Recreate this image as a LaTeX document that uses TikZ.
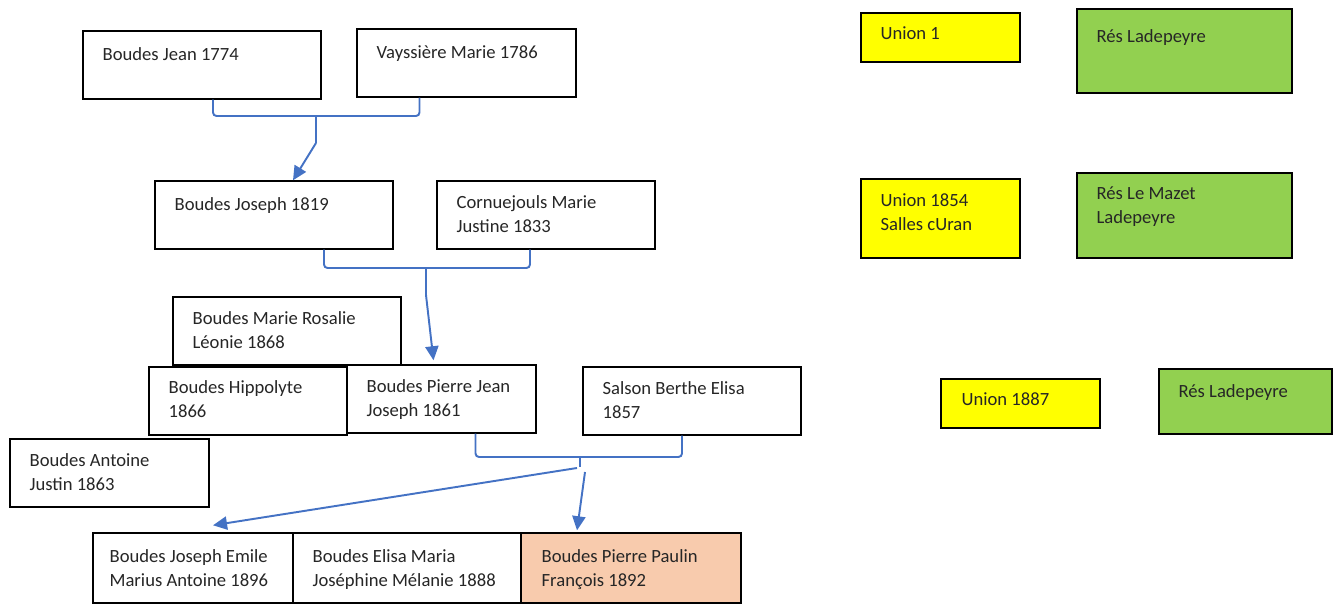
\documentclass[tikz,border=0pt]{standalone}
\usepackage{fontspec}
\setmainfont{Carlito}
\usepackage{xcolor}
\usepackage{tikz}
\usetikzlibrary{arrows.meta,fit}
\definecolor{famBlue}{HTML}{4472C4}
\definecolor{famYellow}{HTML}{FFFF00}
\definecolor{famGreen}{HTML}{92D050}
\definecolor{famPeach}{HTML}{F8CBAD}
\definecolor{famInk}{HTML}{262626}

\begin{document}
\begin{tikzpicture}[x=0.02cm,y=-0.02cm,
    card/.style={draw=black, line width=0.8pt, fill=white, inner sep=0pt},
    who/.style={anchor=base west, inner sep=0pt, align=left, text=famInk,
      font=\fontsize{10.6}{13.6}\selectfont},
    link/.style={draw=famBlue, line width=1.1pt, rounded corners=2pt},
    kid/.style={link, -{Triangle[length=8pt,width=7.5pt]}}]
  \useasboundingbox (0,0) rectangle (1335,607);

  % parents 1774 / 1786
  \node[card, fit={(83,31) (321,99)}] (jean) {};
  \node[who] (jean-t) at ([shift={(20,30)}]jean.north west) {Boudes Jean 1774};
  \node[card, fit={(357,29) (576,97)}] (vay) {};
  \node[who] (vay-t) at ([shift={(20,30)}]vay.north west) {Vayssière Marie 1786};

  % couple 1854
  \node[card, fit={(155,181) (393,249)}] (joseph) {};
  \node[who] (joseph-t) at ([shift={(20,30)}]joseph.north west) {Boudes Joseph 1819};
  \node[card, fit={(437,181) (655,249)}] (corn) {};
  \node[who] (corn-t) at ([shift={(20,52)}]corn.north west) {Cornuejouls Marie\\Justine 1833};

  % their children
  \node[card, fit={(173,297) (401,365)}] (rosalie) {};
  \node[who] (rosalie-t) at ([shift={(20,52)}]rosalie.north west) {Boudes Marie Rosalie\\Léonie 1868};
  \node[card, fit={(149,367) (347,435)}] (hipp) {};
  \node[who] (hipp-t) at ([shift={(20,51)}]hipp.north west) {Boudes Hippolyte\\1866};
  \node[card, fit={(347,365) (536,433)}] (pierre) {};
  \node[who] (pierre-t) at ([shift={(20,52)}]pierre.north west) {Boudes Pierre Jean\\Joseph 1861};
  \node[card, fit={(583,367) (801,435)}] (salson) {};
  \node[who] (salson-t) at ([shift={(20,52)}]salson.north west) {Salson Berthe Elisa\\1857};
  \node[card, fit={(10,439) (209,507)}] (antoine) {};
  \node[who] (antoine-t) at ([shift={(20,52)}]antoine.north west) {Boudes Antoine\\Justin 1863};

  % grandchildren
  \node[card, fit={(93,533) (293,603)}] (emile) {};
  \node[who] (emile-t) at ([shift={(17,54)}]emile.north west) {Boudes Joseph Emile\\Marius Antoine 1896};
  \node[card, fit={(293,533) (521,603)}] (elisa) {};
  \node[who] (elisa-t) at ([shift={(20,54)}]elisa.north west) {Boudes Elisa Maria\\Joséphine Mélanie 1888};
  \node[card, fill=famPeach, fit={(521,533) (741,603)}] (paulin) {};
  \node[who] (paulin-t) at ([shift={(21,54)}]paulin.north west) {Boudes Pierre Paulin\\François 1892};

  % unions and residences
  \node[card, fill=famYellow, fit={(861,13) (1020,62)}] (union1) {};
  \node[who] (union1-t) at ([shift={(20,27)}]union1.north west) {Union 1};
  \node[card, fill=famGreen, fit={(1077,9) (1292,93)}] (res1) {};
  \node[who] (res1-t) at ([shift={(20,34)}]res1.north west) {Rés Ladepeyre};
  \node[card, fill=famYellow, fit={(861,179) (1020,258)}] (union2) {};
  \node[who] (union2-t) at ([shift={(20,52)}]union2.north west) {Union 1854\\Salles cUran};
  \node[card, fill=famGreen, fit={(1077,173) (1292,258)}] (res2) {};
  \node[who] (res2-t) at ([shift={(20,51)}]res2.north west) {Rés Le Mazet\\Ladepeyre};
  \node[card, fill=famYellow, fit={(941,379) (1100,428)}] (union3) {};
  \node[who] (union3-t) at ([shift={(21,27)}]union3.north west) {Union 1887};
  \node[card, fill=famGreen, fit={(1159,369) (1332,434)}] (res3) {};
  \node[who] (res3-t) at ([shift={(20,29)}]res3.north west) {Rés Ladepeyre};

  % brackets
  \coordinate (j1) at (316,116);
  \draw[link] ([shift={(11,0)}]jean.south) |- (j1) -| ([shift={(-47,0)}]vay.south);
  \draw[link] (j1) -- ++(0,27) coordinate (j1a);
  \draw[kid] (j1a) -- ([shift={(19,0)}]joseph.north);

  \coordinate (j2) at (426,268);
  \draw[link] ([shift={(50,0)}]joseph.south) |- (j2) -| ([shift={(-16,0)}]corn.south);
  \draw[link] (j2) -- ++(0,27) coordinate (j2a);
  \draw[kid] (j2a) -- ([shift={(-8,-4)}]pierre.north);

  \coordinate (j3) at (580,457);
  \draw[link] ([shift={(34,0)}]pierre.south) |- (j3) -| ([shift={(-10,0)}]salson.south);
  \draw[link] (j3) -- ++(0,10) coordinate (j3a);
  \draw[kid] ([shift={(-3,1)}]j3a) -- ([shift={(20,-7)}]emile.north);
  \draw[kid] ([shift={(5,5)}]j3a) -- ([shift={(-54,-2)}]paulin.north);
\end{tikzpicture}
\end{document}
